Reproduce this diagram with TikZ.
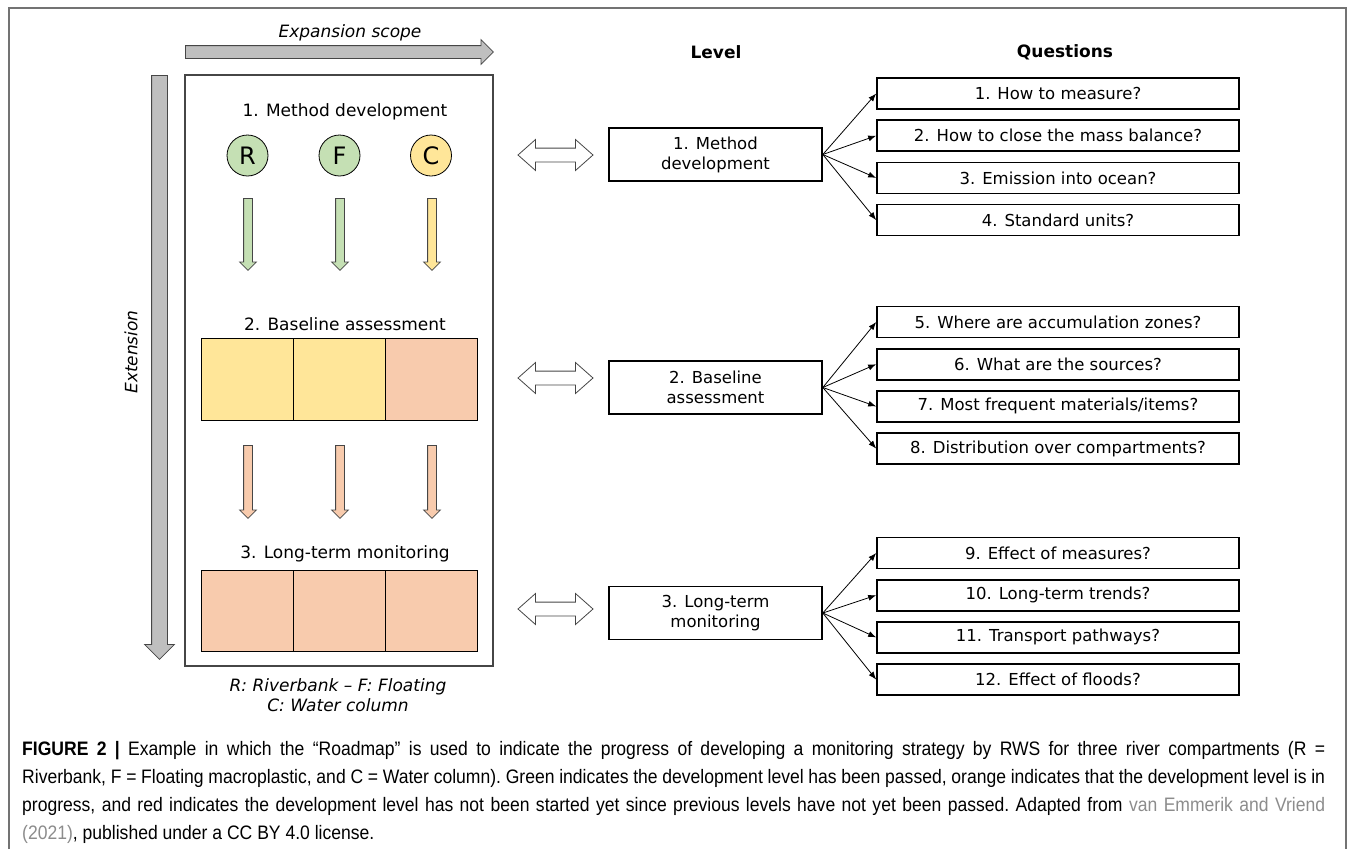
\documentclass[tikz,border=0pt]{standalone}
\usepackage{fontspec}
\setmainfont{DejaVu Sans}
\newfontfamily\capfont[FakeStretch=0.9]{Liberation Sans}
\usetikzlibrary{shapes,arrows.meta}
\definecolor{passgreen}{RGB}{197,224,180}
\definecolor{busyyellow}{RGB}{255,230,153}
\definecolor{todoorange}{RGB}{248,203,173}
\definecolor{arrowgray}{RGB}{191,191,191}
\definecolor{edgegray}{RGB}{70,70,70}
\definecolor{framegray}{RGB}{115,115,115}
\definecolor{linkgray}{RGB}{140,140,140}
\tikzstyle{heading} = [font=\fontsize{17}{20}\selectfont]
\tikzstyle{question} = [rectangle, draw, line width=1.6pt, minimum width=362pt,
    minimum height=31pt, inner sep=0pt, font=\fontsize{16.5}{19}\selectfont]
\tikzstyle{level} = [rectangle, draw, line width=1.6pt, minimum width=213pt,
    minimum height=53pt, align=center, font=\fontsize{16.5}{20}\selectfont]
\tikzstyle{compartment} = [circle, draw, line width=0.8pt, minimum size=41pt,
    inner sep=0pt, font=\fontsize{24}{24}\selectfont]
\tikzstyle{cell} = [rectangle, draw, line width=1pt, minimum width=91.7pt, minimum height=82pt]
\tikzstyle{blockarrow} = [single arrow, draw=edgegray, line width=0.8pt, single arrow tip angle=90,
    minimum width=0pt, anchor=tail]
\tikzstyle{flow} = [blockarrow, inner sep=4pt, single arrow head extend=4pt, rotate=-90]
\tikzstyle{link} = [double arrow, draw=edgegray, fill=white, line width=0.8pt, inner sep=6.5pt,
    double arrow head extend=8.5pt, double arrow tip angle=83, minimum width=0pt, minimum height=75pt]
\tikzstyle{line} = [draw, line width=0.8pt, -{Latex[length=8pt,width=6pt]}]

\begin{document}
\begin{tikzpicture}[x=1pt, y=1pt]
  \useasboundingbox (0,0) rectangle (1355,-849);
  \draw [framegray, line width=1.5pt] (9,-849) -- (9,-8) -- (1346,-8) -- (1346,-849);

  % roadmap on the left
  \node [blockarrow, fill=arrowgray, inner sep=6pt, single arrow head extend=6pt, minimum height=308pt] (expansion) at (185,-52) {};
  \node [heading, font=\itshape\fontsize{17}{20}\selectfont] (expansion_label) at (350,-33) {Expansion scope};
  \node [blockarrow, fill=arrowgray, inner sep=7.5pt, single arrow head extend=7pt, minimum height=584pt, rotate=-90] (extension) at (159.5,-75) {};
  \node [heading, font=\itshape\fontsize{17}{20}\selectfont, rotate=90] (extension_label) at (131,-352) {Extension};
  \node [draw=edgegray, line width=1.2pt, minimum width=308pt, minimum height=591pt, inner sep=0pt] (roadmap) at (339,-370.5) {};

  \node [heading] (title_method) at (345,-112) {1. Method development};
  \node [compartment, fill=passgreen] (riverbank) at (247.5,-155.5) {R};
  \node [compartment, fill=passgreen] (floating) at (339.5,-155.5) {F};
  \node [compartment, fill=busyyellow] (column) at (431,-155.5) {C};
  \node [flow, fill=passgreen, minimum height=72pt] (flow_r1) at (248,-198) {};
  \node [flow, fill=passgreen, minimum height=72pt] (flow_f1) at (340,-198) {};
  \node [flow, fill=busyyellow, minimum height=72pt] (flow_c1) at (432,-198) {};

  \node [heading] (title_baseline) at (345,-324) {2. Baseline assessment};
  \node [cell, fill=busyyellow] (base_r) at (247.8,-379) {};
  \node [cell, fill=busyyellow, right of=base_r, node distance=91.7pt] (base_f) {};
  \node [cell, fill=todoorange, right of=base_f, node distance=91.7pt] (base_c) {};
  \node [flow, fill=todoorange, minimum height=73pt] (flow_r2) at (248,-445) {};
  \node [flow, fill=todoorange, minimum height=73pt] (flow_f2) at (340,-445) {};
  \node [flow, fill=todoorange, minimum height=73pt] (flow_c2) at (432,-445) {};

  \node [heading] (title_longterm) at (345,-554) {3. Long-term monitoring};
  \node [cell, fill=todoorange, minimum height=81pt] (long_r) at (247.8,-610.5) {};
  \node [cell, fill=todoorange, minimum height=81pt, right of=long_r, node distance=91.7pt] (long_f) {};
  \node [cell, fill=todoorange, minimum height=81pt, right of=long_f, node distance=91.7pt] (long_c) {};
  \node [heading, font=\itshape\fontsize{17}{20}\selectfont, align=center] (legend) at (338,-695) {R: Riverbank – F: Floating\\C: Water column};

  % levels
  \node [heading, font=\bfseries\fontsize{17}{20}\selectfont] (level_head) at (716,-52) {Level};
  \node [level] (method_level) at (715.5,-154.5) {1. Method\\development};
  \node [level] (baseline_level) at (715.5,-387.5) {2. Baseline\\assessment};
  \node [level] (longterm_level) at (715.5,-613) {3. Long-term\\monitoring};
  \node [link] (link_method) at (555.5,-155) {};
  \node [link] (link_baseline) at (555.5,-378) {};
  \node [link] (link_longterm) at (555.5,-609) {};

  % questions
  \node [heading, font=\bfseries\fontsize{17}{20}\selectfont] (question_head) at (1065,-52) {Questions};
  \node [question] (q_measure) at (1058,-93.5) {1. How to measure?};
  \node [question, below of=q_measure, node distance=42.2pt] (q_balance) {2. How to close the mass balance?};
  \node [question, below of=q_balance, node distance=42.2pt] (q_ocean) {3. Emission into ocean?};
  \node [question, below of=q_ocean, node distance=42.2pt] (q_units) {4. Standard units?};
  \node [question] (q_zones) at (1058,-322) {5. Where are accumulation zones?};
  \node [question, below of=q_zones, node distance=42.2pt] (q_sources) {6. What are the sources?};
  \node [question, below of=q_sources, node distance=42.2pt] (q_items) {7. Most frequent materials/items?};
  \node [question, below of=q_items, node distance=42.2pt] (q_compart) {8. Distribution over compartments?};
  \node [question] (q_effect) at (1058,-553) {9. Effect of measures?};
  \node [question, below of=q_effect, node distance=42.2pt] (q_trends) {10. Long-term trends?};
  \node [question, below of=q_trends, node distance=42.2pt] (q_pathways) {11. Transport pathways?};
  \node [question, below of=q_pathways, node distance=42.2pt] (q_floods) {12. Effect of floods?};

  \path [line] (method_level.east) -- (q_measure.west);
  \path [line] (method_level.east) -- (q_balance.west);
  \path [line] (method_level.east) -- (q_ocean.west);
  \path [line] (method_level.east) -- (q_units.west);
  \path [line] (baseline_level.east) -- (q_zones.west);
  \path [line] (baseline_level.east) -- (q_sources.west);
  \path [line] (baseline_level.east) -- (q_items.west);
  \path [line] (baseline_level.east) -- (q_compart.west);
  \path [line] (longterm_level.east) -- (q_effect.west);
  \path [line] (longterm_level.east) -- (q_trends.west);
  \path [line] (longterm_level.east) -- (q_pathways.west);
  \path [line] (longterm_level.east) -- (q_floods.west);

  % caption
  \node [anchor=north west, inner sep=0pt, text width=1303pt, align=justify,
    font=\capfont\fontsize{19.5}{28}\selectfont\frenchspacing] (caption) at (22,-741) {\textbf{FIGURE 2 |} Example in which the “Roadmap” is used to indicate the progress of developing a monitoring strategy by RWS for three river compartments (R =\linebreak Riverbank, F = Floating macroplastic, and C = Water column). Green indicates the development level has been passed, orange indicates that the development level is in\linebreak progress, and red indicates the development level has not been started yet since previous levels have not yet been passed. Adapted from \textcolor{linkgray}{van Emmerik and Vriend}\linebreak \textcolor{linkgray}{(2021)}, published under a CC BY 4.0 license.};
\end{tikzpicture}
\end{document}
